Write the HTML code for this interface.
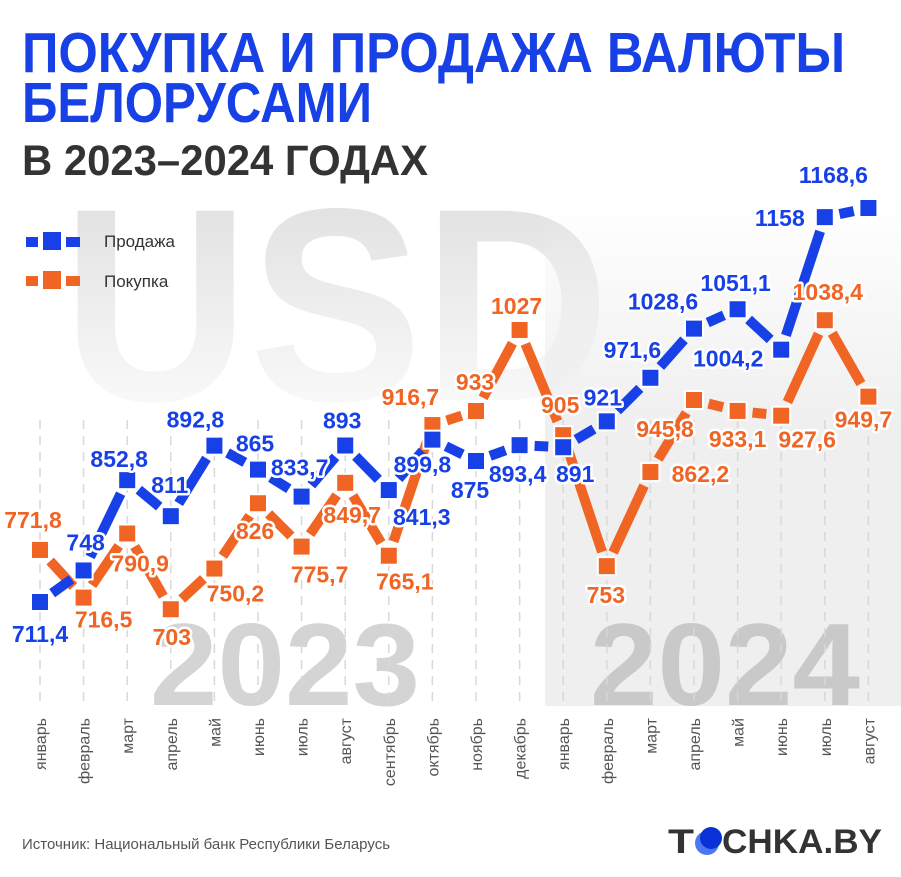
<!DOCTYPE html>
<html><head><meta charset="utf-8">
<style>
body{margin:0;background:#fff;}
svg{display:block;font-family:"Liberation Sans",sans-serif;}
.lbl{font-weight:bold;font-size:23px;text-anchor:middle;paint-order:stroke;stroke:#fff;stroke-width:5px;stroke-linejoin:round;}
.xl{font-size:16px;fill:#555;text-anchor:end;}
</style></head><body>
<svg id="chart" width="901" height="877" viewBox="0 0 901 877" xmlns="http://www.w3.org/2000/svg">
<defs>
<linearGradient id="usdg" x1="0" y1="0" x2="0" y2="1">
<stop offset="0" stop-color="#dcdcdc"/><stop offset="1" stop-color="#ffffff"/>
</linearGradient>
<linearGradient id="rectg" x1="0" y1="0" x2="0" y2="1">
<stop offset="0" stop-color="#efefef" stop-opacity="0"/><stop offset="0.45" stop-color="#efefef"/><stop offset="1" stop-color="#efefef"/>
</linearGradient>
</defs>
<text x="62" y="400" font-size="275" font-weight="bold" fill="url(#usdg)" textLength="548" lengthAdjust="spacingAndGlyphs">USD</text>
<rect x="545" y="200" width="356" height="506" fill="url(#rectg)"/>
<text x="150" y="705" font-size="117" font-weight="bold" fill="#d4d4d4" textLength="270" lengthAdjust="spacingAndGlyphs">2023</text>
<text x="590" y="705" font-size="117" font-weight="bold" fill="#c9c9c9" textLength="270" lengthAdjust="spacingAndGlyphs">2024</text>
<g id="grid"></g>
<g id="lines"></g>
<g id="marks"></g>
<g id="labels"></g>
<g id="xlabels"></g>
<text x="22" y="72" font-size="57" font-weight="bold" fill="#1740e6" textLength="823" lengthAdjust="spacingAndGlyphs">ПОКУПКА И ПРОДАЖА ВАЛЮТЫ</text>
<text x="22" y="122" font-size="57" font-weight="bold" fill="#1740e6" textLength="350" lengthAdjust="spacingAndGlyphs">БЕЛОРУСАМИ</text>
<text x="22" y="175" font-size="43" font-weight="bold" fill="#333" textLength="406" lengthAdjust="spacingAndGlyphs">В 2023–2024 ГОДАХ</text>
<g>
<rect x="26" y="237" width="12" height="10" fill="#1740e6"/><rect x="43" y="232" width="18" height="18" fill="#1740e6"/><rect x="66" y="237" width="14" height="10" fill="#1740e6"/>
<text x="104" y="247" font-size="17" fill="#333">Продажа</text></g>
<g>
<rect x="26" y="276" width="12" height="10" fill="#f06424"/><rect x="43" y="271" width="18" height="18" fill="#f06424"/><rect x="66" y="276" width="14" height="10" fill="#f06424"/>
<text x="104" y="287" font-size="17" fill="#333">Покупка</text></g>
<text x="22" y="849" font-size="15" fill="#555">Источник: Национальный банк Республики Беларусь</text>
<g>
<text x="668" y="853" font-size="34" font-weight="900" fill="#333" textLength="26" lengthAdjust="spacingAndGlyphs">T</text>
<circle cx="707" cy="843" r="12" fill="#4a78f0"/><circle cx="711" cy="838" r="11" fill="#0a30d8"/>
<text x="722" y="853" font-size="34" font-weight="900" fill="#333" textLength="160" lengthAdjust="spacingAndGlyphs">CHKA.BY</text>
</g>
</svg>
<script>
const months = ["январь","февраль","март","апрель","май","июнь","июль","август","сентябрь","октябрь","ноябрь","декабрь","январь","февраль","март","апрель","май","июнь","июль","август"];
const saleValues = [711.4,748,852.8,811,892.8,865,833.7,893,841.3,899.8,875,893.4,891,921,971.6,1028.6,1051.1,1004.2,1158,1168.6];
const buyValues = [771.8,716.5,790.9,703,750.2,826,775.7,849.7,765.1,916.7,933,1027,905,753,862.2,945.8,933.1,927.6,1038.4,949.7];
// label placement offsets relative to marker (layout, not data)
const saleDx=[0,2,-8,-1,-19,-3,-2,-3,33,-10,-6,-2,12,-4,-18,-31,-2,-53,-45,-35];
const saleDy=[40,-20,-13,-23,-18,-18,-21,-17,35,33,37,37,35,-16,-20,-19,-18,17,9,-25];
const buyDx=[-7,20,13,1,21,-3,18,7,16,-22,-1,-3,-3,-1,50,-29,0,26,3,-5];
const buyDy=[-22,30,38,36,33,36,36,40,34,-20,-21,-16,-22,37,10,37,36,32,-20,31];

const X = i => 40 + i*43.6;
const Y = v => 602 - (v-711.4)*0.8618;
const NS="http://www.w3.org/2000/svg";
function mk(tag,parent){const e=document.createElementNS(NS,tag);document.getElementById(parent).appendChild(e);return e;}

months.forEach((m,i)=>{
  const g=mk('line','grid');
  
  
  g.setAttribute('x1',X(i));g.setAttribute('x2',X(i));g.setAttribute('y1',420);g.setAttribute('y2',706);
  g.setAttribute('stroke','#d8d8d8');g.setAttribute('stroke-width','1.5');g.setAttribute('stroke-dasharray','9 7');
  const t=mk('text','xlabels');
  
  
  t.setAttribute('class','xl');
  t.setAttribute('transform','translate('+(X(i)+6)+',718) rotate(-90)');
  t.textContent=m;
});

function series(vals,color,name,dx,dy){
  for(let i=0;i<vals.length-1;i++){
    const x1=X(i),y1=Y(vals[i]),x2=X(i+1),y2=Y(vals[i+1]);
    const L=Math.hypot(x2-x1,y2-y1),ux=(x2-x1)/L,uy=(y2-y1)/L,g=15;
    const l=mk('line','lines');
    
    
    l.setAttribute('x1',x1+ux*g);l.setAttribute('y1',y1+uy*g);l.setAttribute('x2',x2-ux*g);l.setAttribute('y2',y2-uy*g);
    l.setAttribute('stroke',color);l.setAttribute('stroke-width','10');
  }
  vals.forEach((v,i)=>{
    const r=mk('rect','marks');
    
    
    r.setAttribute('x',X(i)-9);r.setAttribute('y',Y(v)-9);r.setAttribute('width',18);r.setAttribute('height',18);
    r.setAttribute('fill',color);
    r.setAttribute('stroke','#fff');r.setAttribute('stroke-width','2');
    const t=mk('text','labels');
    
    
    t.setAttribute('class','lbl');t.setAttribute('fill',color);
    t.setAttribute('x',X(i)+dx[i]);t.setAttribute('y',Y(v)+dy[i]);
    if(i===vals.length-1||(name==='purchase'&&i===18)) t.setAttribute('font-size','26');
    t.textContent=String(v).replace('.',',');
  });
}
series(buyValues,'#f06424','purchase',buyDx,buyDy);
series(saleValues,'#1740e6','sale',saleDx,saleDy);
</script>
</body></html>
